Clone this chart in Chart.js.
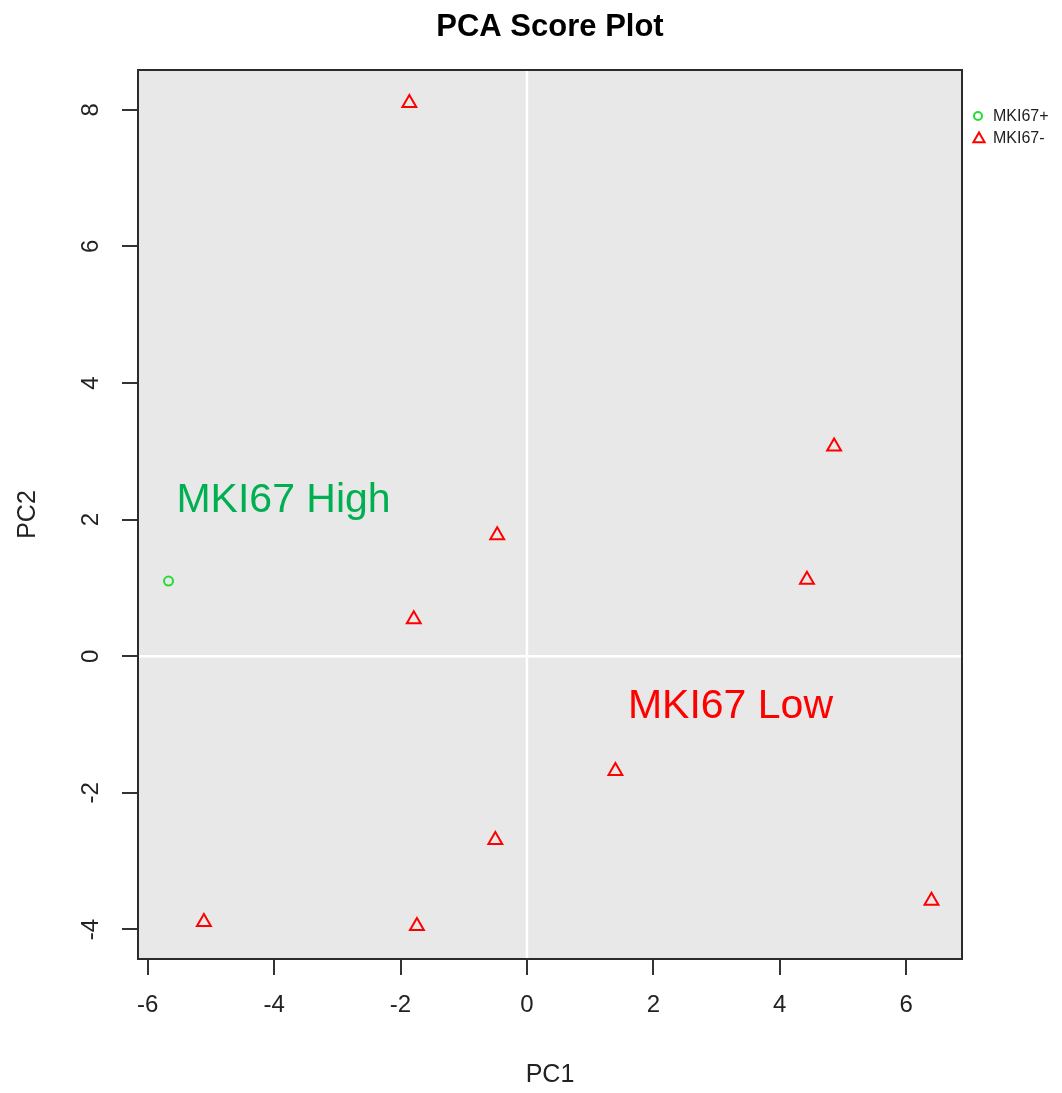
<!DOCTYPE html>
<html>
<head>
<meta charset="utf-8">
<script src="https://cdn.jsdelivr.net/npm/chart.js@4/dist/chart.umd.min.js"></script>
<style>
  html, body { margin: 0; padding: 0; background: #fff; }
  canvas { display: block; background: #fff; }
</style>
</head>
<body>
<canvas id="pca" width="1062" height="1093"></canvas>
<script>
// Sample scores on the first two principal components
const groups = ['MKI67+', 'MKI67-'];
const highPC1 = [-5.67];
const highPC2 = [1.10];
const lowPC1 = [-1.86, -0.47, -1.79, 4.86, 4.43, 1.40, -0.50, -5.11, -1.74, 6.40];
const lowPC2 = [8.10, 1.77, 0.54, 3.07, 1.12, -1.68, -2.69, -3.89, -3.95, -3.58];
const xTicks = [-6, -4, -2, 0, 2, 4, 6];
const yTicks = [-4, -2, 0, 2, 4, 6, 8];
const groupLabels = ['MKI67 High', 'MKI67 Low'];
const groupLabelAt = [[-3.85, 2.33], [3.22, -0.68]];
const groupLabelColors = ['#00B050', '#FF0000'];

const GREEN = '#22DD33';
const RED = '#FF0000';
const INK = '#222222';
const FONT = '"Liberation Sans", Arial, sans-serif';

// Axis limits padded by 4% of the data range on each side
function padded(values) {
  const lo = Math.min(...values), hi = Math.max(...values);
  const d = (hi - lo) * 0.04;
  return [lo - d, hi + d];
}
const [xMin, xMax] = padded(highPC1.concat(lowPC1));
const [yMin, yMax] = padded(highPC2.concat(lowPC2));

const toPoints = (xs, ys) => xs.map((v, i) => ({ x: v, y: ys[i] }));

const panel = {
  id: 'panel',
  beforeDatasetsDraw(chart) {
    const { ctx, chartArea: a, scales: { x, y } } = chart;
    ctx.save();
    ctx.fillStyle = '#E8E8E8';
    ctx.fillRect(a.left, a.top, a.right - a.left, a.bottom - a.top);
    // reference lines through the origin
    const x0 = x.getPixelForValue(0), y0 = y.getPixelForValue(0);
    ctx.strokeStyle = '#FFFFFF';
    ctx.lineWidth = 2.5;
    ctx.beginPath();
    ctx.moveTo(x0, a.top); ctx.lineTo(x0, a.bottom);
    ctx.moveTo(a.left, y0); ctx.lineTo(a.right, y0);
    ctx.stroke();
    ctx.restore();
  },
  afterDraw(chart) {
    const { ctx, chartArea: a, scales: { x, y } } = chart;
    ctx.save();
    // box
    ctx.strokeStyle = '#2B2B2B';
    ctx.lineWidth = 2;
    ctx.strokeRect(a.left, a.top, a.right - a.left, a.bottom - a.top);

    // title
    ctx.fillStyle = '#000';
    ctx.font = 'bold 31px ' + FONT;
    ctx.textAlign = 'center';
    ctx.textBaseline = 'alphabetic';
    ctx.fillText('PCA Score Plot', (a.left + a.right) / 2, 36);

    // axis titles
    ctx.fillStyle = INK;
    ctx.font = '25px ' + FONT;
    ctx.fillText('PC1', (a.left + a.right) / 2, 1082);
    ctx.save();
    ctx.translate(28, (a.top + a.bottom) / 2);
    ctx.rotate(-Math.PI / 2);
    ctx.textBaseline = 'middle';
    ctx.fillText('PC2', 0, 0);
    ctx.restore();

    // y tick labels, written parallel to the axis
    ctx.font = '24px ' + FONT;
    y.ticks.forEach(t => {
      ctx.save();
      ctx.translate(91, y.getPixelForValue(t.value));
      ctx.rotate(-Math.PI / 2);
      ctx.textAlign = 'center';
      ctx.textBaseline = 'middle';
      ctx.fillText(String(t.value), 0, 0);
      ctx.restore();
    });

    // group annotations
    ctx.font = '41px ' + FONT;
    ctx.textAlign = 'center';
    ctx.textBaseline = 'alphabetic';
    groupLabels.forEach((txt, i) => {
      ctx.fillStyle = groupLabelColors[i];
      const [vx, vy] = groupLabelAt[i];
      ctx.fillText(txt, x.getPixelForValue(vx), y.getPixelForValue(vy) + 15);
    });

    // legend
    ctx.lineWidth = 2;
    ctx.strokeStyle = GREEN;
    ctx.beginPath();
    ctx.arc(978, 116, 4, 0, Math.PI * 2);
    ctx.stroke();
    ctx.strokeStyle = RED;
    const tr = 6.5, tx = 979, ty = 139;
    ctx.beginPath();
    ctx.moveTo(tx, ty - tr);
    ctx.lineTo(tx + tr * Math.sin(2 * Math.PI / 3), ty - tr * Math.cos(2 * Math.PI / 3));
    ctx.lineTo(tx + tr * Math.sin(4 * Math.PI / 3), ty - tr * Math.cos(4 * Math.PI / 3));
    ctx.closePath();
    ctx.stroke();
    ctx.fillStyle = INK;
    ctx.font = '16px ' + FONT;
    ctx.textAlign = 'left';
    ctx.textBaseline = 'middle';
    ctx.fillText(groups[0], 993, 117);
    ctx.fillText(groups[1], 993, 139);
    ctx.restore();
  }
};

new Chart(document.getElementById('pca'), {
  type: 'scatter',
  data: {
    datasets: [
      {
        label: groups[0],
        data: toPoints(highPC1, highPC2),
        pointStyle: 'circle',
        pointRadius: 4.5,
        borderWidth: 2,
        borderColor: GREEN,
        backgroundColor: 'rgba(0,0,0,0)'
      },
      {
        label: groups[1],
        data: toPoints(lowPC1, lowPC2),
        pointStyle: 'triangle',
        pointRadius: 8,
        borderWidth: 2,
        borderColor: RED,
        backgroundColor: 'rgba(0,0,0,0)'
      }
    ]
  },
  options: {
    responsive: false,
    devicePixelRatio: 1,
    animation: false,
    events: [],
    layout: { padding: { top: 70, right: 100, left: 0, bottom: 0 } },
    plugins: { legend: { display: false }, title: { display: false }, tooltip: { enabled: false } },
    scales: {
      x: {
        type: 'linear',
        min: xMin,
        max: xMax,
        afterBuildTicks: s => { s.ticks = xTicks.map(v => ({ value: v })); },
        afterFit: s => { s.height = 134; },
        border: { display: false },
        grid: { drawOnChartArea: false, drawTicks: true, tickLength: 16, color: '#333', lineWidth: 2 },
        ticks: { color: INK, font: { family: FONT, size: 24 }, padding: 16, maxRotation: 0, autoSkip: false }
      },
      y: {
        type: 'linear',
        min: yMin,
        max: yMax,
        afterBuildTicks: s => { s.ticks = yTicks.map(v => ({ value: v })); },
        afterFit: s => { s.width = 138; },
        border: { display: false },
        grid: { drawOnChartArea: false, drawTicks: true, tickLength: 16, color: '#333', lineWidth: 2 },
        ticks: { color: 'rgba(0,0,0,0)', font: { family: FONT, size: 24 }, autoSkip: false }
      }
    }
  },
  plugins: [panel]
});
</script>
</body>
</html>
